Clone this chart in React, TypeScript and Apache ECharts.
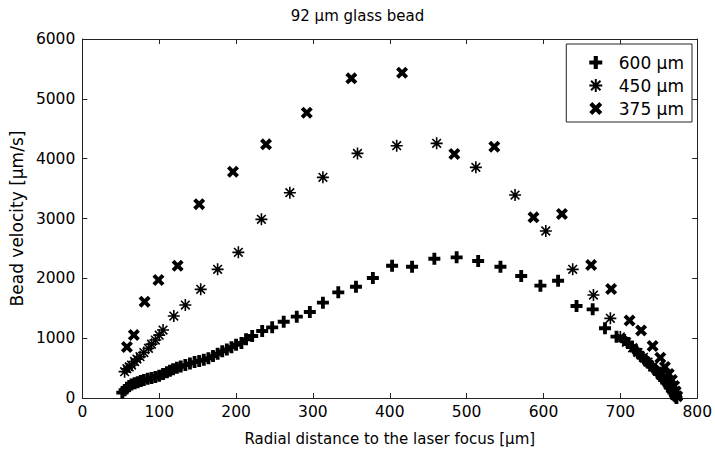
import React, { useEffect, useRef } from "react";
import * as echarts from "echarts";

const titleText = "92 µm glass bead";
const xName = "Radial distance to the laser focus [µm]";
const yName = "Bead velocity [µm/s]";
const seriesNames = ["600 µm", "450 µm", "375 µm"];

const s600: [number, number][] = [
  [52, 90], [55, 130], [58, 170], [61, 200], [64, 225], [68, 245], [72, 265], [76, 285],
  [80, 300], [85, 320], [90, 335], [95, 350], [100, 370], [105, 400], [110, 430], [114, 455],
  [118, 480], [123, 505], [128, 525], [134, 550], [140, 575], [146, 600], [152, 620], [158, 640],
  [164, 665], [170, 700], [176, 740], [182, 780], [188, 810], [194, 850], [200, 890], [207, 920],
  [213, 980], [221, 1036], [234, 1120], [247, 1181], [262, 1275], [279, 1359], [296, 1437],
  [313, 1593], [333, 1766], [356, 1860], [378, 2005], [403, 2211], [429, 2194], [458, 2328],
  [487, 2351], [515, 2289], [544, 2194], [571, 2039], [596, 1877], [619, 1960], [643, 1537],
  [664, 1482], [680, 1165], [695, 1025], [705, 970], [710, 920], [715, 860], [720, 800],
  [724, 740], [728, 690], [732, 640], [736, 590], [740, 540], [744, 490], [748, 440],
  [751, 400], [754, 350], [757, 300], [760, 260], [763, 210], [765, 170], [767, 130],
  [769, 90], [771, 60], [772, 30], [773, 0],
];

const s450: [number, number][] = [
  [55, 440], [58, 490], [61, 520], [64, 551], [68, 610], [71, 650], [75, 690], [80, 760],
  [86, 830], [90, 900], [95, 969], [100, 1050], [105, 1136], [119, 1370], [134, 1554],
  [154, 1816], [176, 2150], [203, 2434], [233, 2986], [270, 3431], [313, 3688], [358, 4088],
  [409, 4217], [461, 4256], [512, 3855], [563, 3392], [603, 2791], [638, 2150], [665, 1721],
  [687, 1331], [700, 1020], [708, 930], [716, 840], [723, 760], [730, 680], [736, 600],
  [742, 520], [748, 450], [753, 380], [758, 300], [762, 230], [766, 160], [769, 100], [772, 40],
];

const s375: [number, number][] = [
  [58, 852], [67, 1053], [81, 1610], [99, 1972], [124, 2211], [152, 3240], [196, 3781],
  [239, 4239], [292, 4768], [350, 5342], [416, 5436], [484, 4077], [536, 4200], [587, 3019],
  [624, 3075], [662, 2222], [688, 1821], [712, 1295], [727, 1130], [742, 869], [752, 673],
  [758, 520], [763, 400], [767, 300], [770, 200], [772, 110], [774, 30],
];

const PLUS =
  "path://M-1.6,-5 L1.6,-5 L1.6,-1.6 L5,-1.6 L5,1.6 L1.6,1.6 L1.6,5 L-1.6,5 L-1.6,1.6 L-5,1.6 L-5,-1.6 L-1.6,-1.6 Z";
const CROSS =
  "path://M2.47,-4.6 L4.6,-2.47 L2.12,0 L4.6,2.47 L2.47,4.6 L0,2.12 L-2.47,4.6 L-4.6,2.47 L-2.12,0 L-4.6,-2.47 L-2.47,-4.6 L0,-2.12 Z";
const STAR =
  "path://M0,-5 L0,5 M-5,0 L5,0 M-3.6,-3.6 L3.6,3.6 M-3.6,3.6 L3.6,-3.6";

const FONT = "DejaVu Sans";

export default function App() {
  const ref = useRef<HTMLDivElement>(null);
  useEffect(() => {
    if (!ref.current) return;
    const chart = echarts.init(ref.current, undefined, { renderer: "svg" });
    const mkLine = () => ({ show: true, onZero: false, lineStyle: { color: "#222", width: 1 } });
    const mkTick = () => ({ show: true, inside: true, length: 5, lineStyle: { color: "#222" } });
    chart.setOption({
      animation: false,
      backgroundColor: "#fff",
      textStyle: { fontFamily: FONT },
      title: {
        text: titleText,
        left: "center",
        top: 3,
        textStyle: { fontFamily: FONT, fontSize: 15, fontWeight: "normal", color: "#000" },
      },
      grid: { left: 80, right: 15, top: 39, bottom: 54 },
      legend: {
        orient: "vertical",
        right: 23,
        top: 44,
        padding: [10, 8, 5, 22],
        itemWidth: 36,
        itemHeight: 13,
        itemGap: 6,
        borderColor: "#222",
        borderWidth: 1,
        backgroundColor: "#fff",
        borderRadius: 0,
        textStyle: { fontFamily: FONT, fontSize: 17, color: "#000" },
        data: seriesNames,
      },
      xAxis: [
        {
          type: "value",
          min: 0,
          max: 800,
          interval: 100,
          name: xName,
          nameLocation: "middle",
          nameGap: 33,
          nameTextStyle: { fontFamily: FONT, fontSize: 15, color: "#000" },
          axisLine: mkLine(),
          axisTick: mkTick(),
          splitLine: { show: false },
          axisLabel: { fontFamily: FONT, fontSize: 15.5, color: "#000", margin: 6 },
        },
        {
          type: "value",
          position: "top",
          min: 0,
          max: 800,
          interval: 100,
          axisLine: mkLine(),
          axisTick: mkTick(),
          splitLine: { show: false },
          axisLabel: { show: false },
        },
      ],
      yAxis: [
        {
          type: "value",
          min: 0,
          max: 6000,
          interval: 1000,
          name: yName,
          nameLocation: "middle",
          nameGap: 51,
          nameTextStyle: { fontFamily: FONT, fontSize: 17, color: "#000" },
          axisLine: mkLine(),
          axisTick: mkTick(),
          splitLine: { show: false },
          axisLabel: {
            fontFamily: FONT,
            fontSize: 15.5,
            color: "#000",
            margin: 7,
            formatter: (v: number) => String(v),
          },
        },
        {
          type: "value",
          position: "right",
          min: 0,
          max: 6000,
          interval: 1000,
          axisLine: mkLine(),
          axisTick: mkTick(),
          splitLine: { show: false },
          axisLabel: { show: false },
        },
      ],
      series: [
        {
          name: seriesNames[0],
          type: "scatter",
          data: s600,
          symbol: PLUS,
          symbolSize: 12,
          itemStyle: { color: "#000", opacity: 1 },
        },
        {
          name: seriesNames[1],
          type: "scatter",
          data: s450,
          symbol: STAR,
          symbolSize: 12,
          itemStyle: { color: "#000", borderColor: "#000", borderWidth: 1.6, opacity: 1 },
        },
        {
          name: seriesNames[2],
          type: "scatter",
          data: s375,
          symbol: CROSS,
          symbolSize: 12,
          itemStyle: { color: "#000", opacity: 1 },
        },
      ],
    });
    return () => chart.dispose();
  }, []);
  return (
    <div
      ref={ref}
      style={{ position: "absolute", left: 0, top: 0, width: 715, height: 452 }}
    />
  );
}
